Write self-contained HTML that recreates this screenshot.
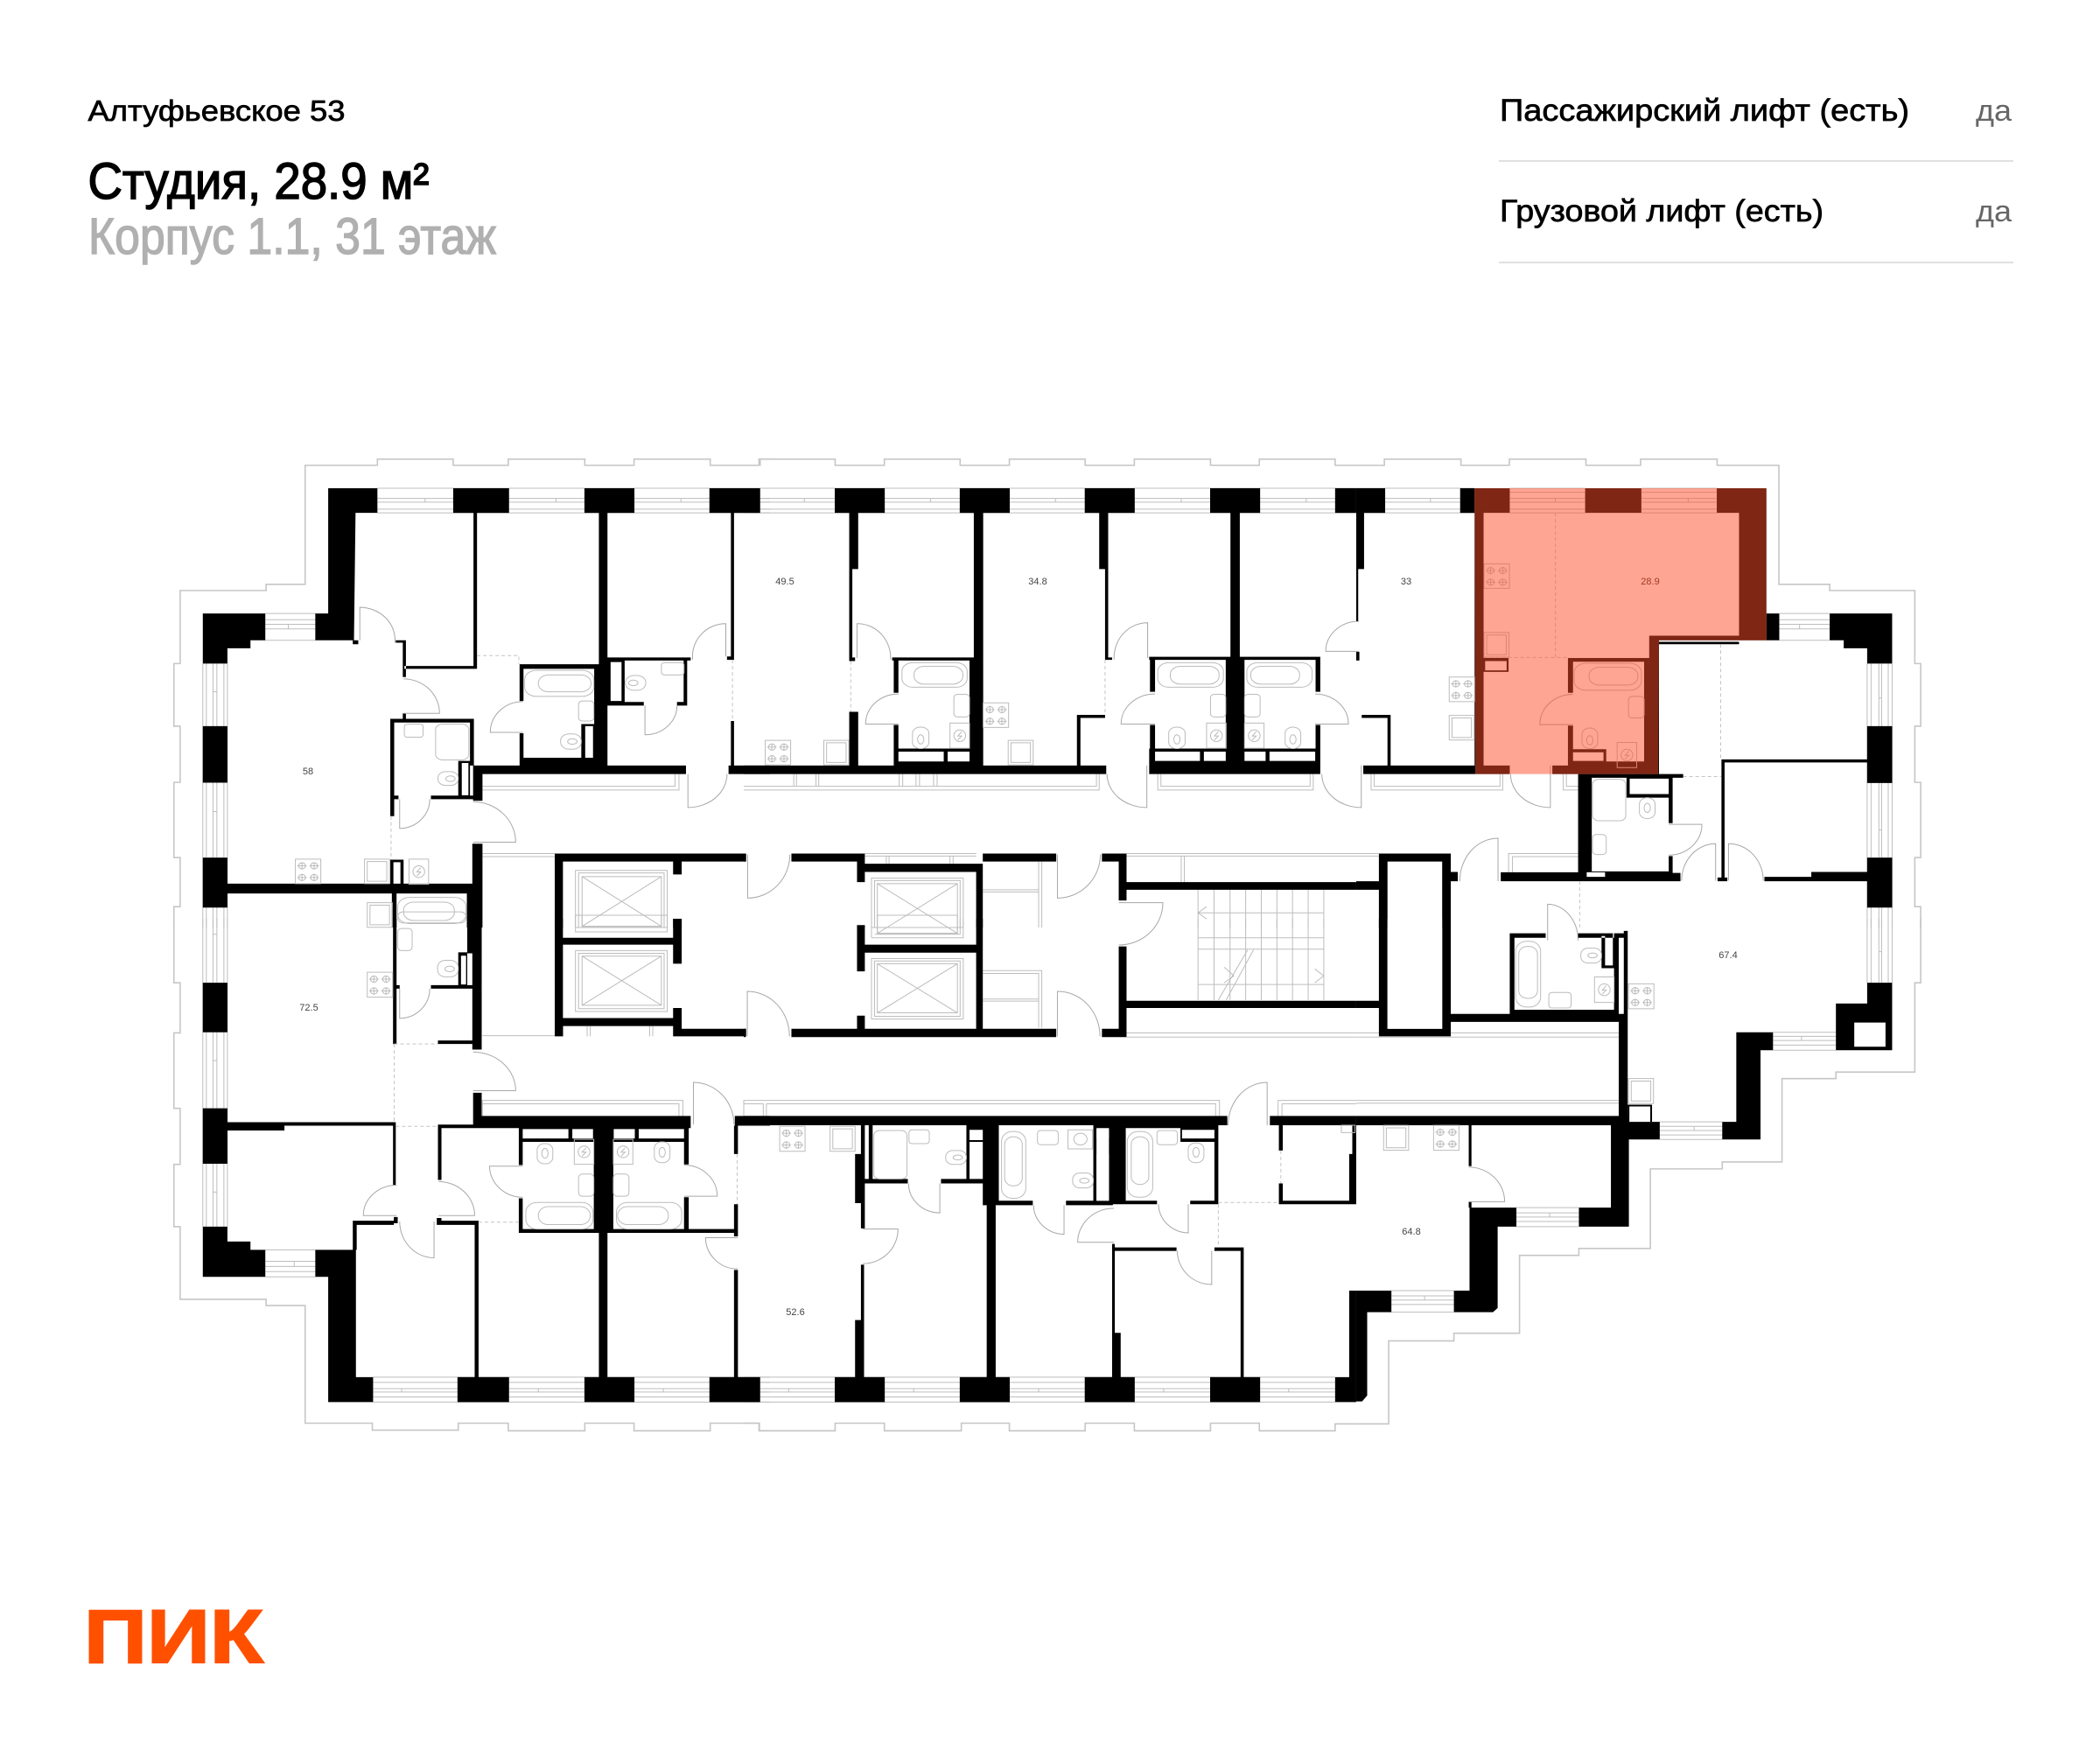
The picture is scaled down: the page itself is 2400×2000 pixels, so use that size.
<!DOCTYPE html>
<html lang="ru"><head><meta charset="utf-8"><title>Студия, 28.9 м²</title>
<style>
html,body{margin:0;padding:0;background:#fff}
svg{display:block}
text{font-family:"Liberation Sans","Noto Sans CJK SC",sans-serif}
.o,.l,.d,.f,.f *{fill:none;vector-effect:non-scaling-stroke}
.o{stroke:#c6c6c6;stroke-width:1.6}
.l{stroke:#bdbdbd;stroke-width:1}
.d{stroke:#a8a8a8;stroke-width:1}
.q{fill:none;stroke:#c4c4c4;stroke-width:1;stroke-dasharray:4 3;vector-effect:non-scaling-stroke}
.f{stroke:#bcbcbc;stroke-width:1}
.m{font-size:11px;fill:#444;text-anchor:middle}
</style></head><body>
<svg width="2400" height="2000" viewBox="0 0 2400 2000" xmlns="http://www.w3.org/2000/svg">
<rect width="2400" height="2000" fill="#fff"/>
<defs>
<g id="st" class="f"><rect width="65" height="80" vector-effect="non-scaling-stroke"/><ellipse cx="17" cy="22" rx="9" ry="10" vector-effect="non-scaling-stroke"/><ellipse cx="48" cy="22" rx="9" ry="10" vector-effect="non-scaling-stroke"/><ellipse cx="17" cy="60" rx="9" ry="10" vector-effect="non-scaling-stroke"/><ellipse cx="48" cy="60" rx="9" ry="10" vector-effect="non-scaling-stroke"/><path d="M5,22H29M36,22H60M5,60H29M36,60H60M17,10V34M48,10V34M17,48V72M48,48V72" vector-effect="non-scaling-stroke"/></g>
<g id="ks" class="f"><rect width="64" height="80" vector-effect="non-scaling-stroke"/><rect x="7" y="8" width="50" height="64" vector-effect="non-scaling-stroke"/></g>
<g id="ws" class="f"><rect width="50" height="82" vector-effect="non-scaling-stroke"/><ellipse cx="25" cy="41" rx="15" ry="19" vector-effect="non-scaling-stroke"/><path d="M30,28L20,42H30L20,55" vector-effect="non-scaling-stroke"/></g>
</defs>

<!-- Header -->
<text x="100.5" y="138" font-size="33" fill="#000" textLength="294" lengthAdjust="spacingAndGlyphs" stroke="#000" stroke-width=".7">Алтуфьевское 53</text>
<text x="100.5" y="227" font-size="58" fill="#000" textLength="390" lengthAdjust="spacingAndGlyphs" stroke="#000" stroke-width="1.5">Студия, 28.9 м²</text>
<text x="101" y="290" font-size="58" fill="#b0b0b0" textLength="466" lengthAdjust="spacingAndGlyphs" stroke="#b0b0b0" stroke-width="1.4">Корпус 1.1, 31 этаж</text>
<text x="1714" y="138" font-size="35" fill="#000" textLength="468" lengthAdjust="spacingAndGlyphs" stroke="#000" stroke-width=".7">Пассажирский лифт (есть)</text>
<text x="2258" y="138" font-size="34" fill="#666" textLength="41" lengthAdjust="spacingAndGlyphs">да</text>
<rect x="1713" y="183" width="588" height="2" fill="#e0e0e0"/>
<text x="1714" y="253" font-size="35" fill="#000" textLength="370" lengthAdjust="spacingAndGlyphs" stroke="#000" stroke-width=".7">Грузовой лифт (есть)</text>
<text x="2258" y="253" font-size="34" fill="#666" textLength="41" lengthAdjust="spacingAndGlyphs">да</text>
<rect x="1713" y="299" width="588" height="2" fill="#e0e0e0"/>

<!-- Group A : top left -->
<g transform="matrix(.4464 0 0 .3508 180 510)">
<path class="o" d="M42,1568V1500H58V1340H42V1095H58V912H42V708H58V470H278V450H378V62H563V42H757V62H898V42H1094V62H1220V42H1415V62H1540V42H1568"/>
<path class="l" d="M563,137H1568M563,170H1568M563,182H1568M563,205H1568M563,217H1568M685,170v12M1020,170v12M1340,170v12M276,545H405M276,565H405M276,580H405M276,595H405M276,632H405M335,580v15M116,708V1568M125,708V1568M142,708V1568M152,708V1568M170,708V1568M179,708V1568M142,800h10M142,1190h10"/>
<path class="l" d="M832,1120H1335V1068M832,1108H1325V1068M832,1327H1017M832,1337H1017"/>
<path fill="#000" d="M437,137H563V217H507L503,632H404V545H437ZM116,545H276V632H238V658H179V708H116ZM757,137H900V217H757ZM1093,137H1221V217H1093ZM1413,137H1541V217H1413ZM116,912H179V1096H116ZM116,1340H179V1503H116Z
M809,217H818V725H632V716H809ZM628,632V752H636V640H636V632H610V640H628ZM628,870H636V888H628ZM500,632H514V645H500Z
M1130,217H1152V1040H1130ZM927,710H1130V725H937V830H927ZM927,935H937V1015H1118V710H1130V1040H927ZM808,1040H1353V1068H832V1155H808ZM1085,905H1118V1015H1085Z
M1152,688H1365V698H1356V845H1330V833H1347V698H1196V833H1245V845H1152Z
M1468,217H1476V696H1458V685H1468ZM1468,895H1476V1040H1568V1068H1462V1040H1468Z
M596,888H810V1040H800V900H606V1138H617V1150H606V1205H596ZM700,1138H808V1150H700ZM770,1025H800V1140H770Z
M806,1295H832V1568H792V1457H612V1568H600V1457H179V1425H806Z
M596,1347H630V1425H596Z
M1017,1327H1507V1353H1342V1395H1320V1353H1038V1568H1017ZM1320,1540H1342V1568H1320Z"/>
<path fill="#fff" d="M1160,703H1188V830H1160ZM1095,912H1115V1015H1095ZM779,1032H796V1137H779ZM604,1355H622V1425H604Z"/>
<g class="d"><path class="d" d="M518,632V525A90,107 0 0 1 608,640"/><path class="d" d="M630,870H722A92,112 0 0 0 630,758"/><path class="d" d="M935,932H852A83,100 0 0 1 935,832"/><path class="d" d="M1248,845V940A82,95 0 0 0 1330,845"/><path class="d" d="M1455,685V578A85,107 0 0 0 1370,695"/><path class="d" d="M620,1150V1245A78,95 0 0 0 697,1150"/><path class="d" d="M808,1290H917A110,132 0 0 0 808,1158"/><path class="d" d="M1358,1068V1177A100,109 0 0 0 1458,1068"/></g>
<path class="q" d="M818,682H925V710M1472,696V895M598,1205V1347"/>
<g class="f"><rect class="f" x="940" y="730" width="177" height="85" rx="30"/><rect class="f" x="975" y="745" width="135" height="55" rx="26"/><rect class="f" x="1078" y="830" width="39" height="65" rx="10"/><rect class="f" x="1032" y="937" width="53" height="50" rx="22"/><ellipse class="f" cx="1062" cy="962" rx="12" ry="9"/><rect class="f" x="1290" y="705" width="58" height="40" rx="8"/><rect class="f" x="1198" y="747" width="52" height="48" rx="22"/><ellipse class="f" cx="1218" cy="771" rx="12" ry="9"/><rect class="f" x="632" y="905" width="48" height="43" rx="8"/><rect class="f" x="712" y="905" width="85" height="117" rx="18"/><rect class="f" x="718" y="1060" width="52" height="45" rx="20"/><ellipse class="f" cx="750" cy="1083" rx="12" ry="9"/><rect class="f" x="615" y="1470" width="175" height="85" rx="30"/><rect class="f" x="630" y="1485" width="130" height="60" rx="26"/></g>
<use href="#st" x="353" y="1345"/><use href="#ks" x="530" y="1345"/><use href="#ws" x="644" y="1345"/><use href="#ks" x="537" y="1487"/>
<g class="f"><rect class="f" x="1070" y="1382" width="235" height="186"/><rect class="f" x="1078" y="1390" width="219" height="178"/><rect class="f" x="1087" y="1402" width="203" height="162"/><path class="f" d="M1087,1402L1290,1564M1290,1402L1087,1564"/></g>
</g>

<!-- Group B : top middle -->
<g transform="matrix(.4464 0 0 .3508 850 510)">
<path class="o" d="M0,62H42V42H234V62H360V42H554V62H680V42H874V62H1000V42H1195V62H1320V42H1514V62H1568"/>
<path class="l" d="M0,137H1568M0,170H1568M0,182H1568M0,205H1568M0,217H1568M155,170v12M478,170v12M798,170v12M1120,170v12M1440,170v12"/>
<path class="l" d="M0,1120H910V1068M0,1108H903V1068M128,1068V1108M135,1068V1108M185,1068V1108M192,1068V1108M398,1068V1108M407,1068V1108M441,1068V1108M450,1068V1108M486,1068V1108M495,1068V1108M1060,1068V1120H1458V1068M1068,1068V1108H1450V1068
M310,1327H595M310,1335H595M365,1335V1360M372,1335V1360M528,1335V1360M536,1335V1360M612,1445H755M612,1452H755M755,1353V1568M763,1353V1568M980,1327H1568M980,1335H1568M1120,1335V1420M1128,1335V1420"/>
<path class="l" d="M1163,1445V1568M1204,1445V1568M1245,1445V1568M1285,1445V1568M1325,1445V1568M1365,1445V1568M1405,1445V1568M1445,1445V1568M1485,1445V1568M1163,1520H1485M1185,1500L1163,1520L1185,1540"/>
<path fill="#000" d="M0,137H42V217H0ZM233,137H361V217H233ZM553,137H681V217H553ZM873,137H1001V217H873ZM1194,137H1322V217H1194ZM1514,137H1568V217H1514Z
M270,217H293V400H278V688H285V700H270ZM270,865H293V1040H270ZM589,217H613V1040H589ZM910,217H933V688H943V696H925V400H910ZM1246,217H1270V690H1246Z
M380,688H578V698H396V803H384V698H380ZM578,688H613V1040H578ZM384,908H396V985H384ZM384,985H613V1040H384Z
M0,1040H928V1068H0ZM853,875H925V885H862V1040H853Z
M1038,686H1476V696H1476V800H1464V696H1053V800H1040V696H1038ZM1234,686H1282V1040H1234ZM1040,908H1053V985H1040ZM1464,908H1476V985H1464ZM1038,985H1476V1068H1038Z
M0,1327H5V1353H0ZM122,1327H310V1360H612V1327H800V1353H612V1568H595V1387H310V1420H290V1353H122ZM917,1327H980V1420H1568V1445H980V1480H960V1353H917Z
M290,1560H310V1568H290Z"/>
<path fill="#fff" d="M396,995H512V1027H396ZM522,995H578V1027H522ZM1053,995H1168V1025H1053ZM1178,995H1234V1025H1178ZM1282,995H1336V1025H1282ZM1346,995H1463V1025H1346Z"/>
<g class="d"><path class="d" d="M290,690V578A85,112 0 0 1 376,695"/><path class="d" d="M396,905H312A84,98 0 0 1 396,807"/><path class="d" d="M1034,690V575A85,115 0 0 0 948,695"/><path class="d" d="M1053,905H966A87,98 0 0 1 1053,807"/><path class="d" d="M1463,905H1548A85,98 0 0 0 1463,807"/><path class="d" d="M1575,668H1490A85,98 0 0 1 1575,570"/><path class="d" d="M1032,1040V1177A102,109 0 0 1 930,1068"/><path class="d" d="M1581,1040V1177A101,109 0 0 1 1480,1068"/><path class="d" d="M10,1330V1472A108,142 0 0 0 118,1330"/><path class="d" d="M803,1330V1472A110,142 0 0 0 913,1330"/><path class="d" d="M960,1487H1073A113,138 0 0 1 960,1625"/></g>
<path class="q" d="M274,700V865M925,696V875"/>
<g class="f"><rect class="f" x="405" y="705" width="167" height="80" rx="28"/><rect class="f" x="436" y="717" width="125" height="58" rx="26"/><rect class="f" x="538" y="808" width="40" height="74" rx="10"/><rect class="f" x="432" y="915" width="42" height="70" rx="20"/><ellipse class="f" cx="453" cy="955" rx="8" ry="15"/><rect class="f" x="1060" y="705" width="168" height="80" rx="28"/><rect class="f" x="1092" y="717" width="125" height="58" rx="26"/><rect class="f" x="1195" y="808" width="39" height="74" rx="10"/><rect class="f" x="1088" y="915" width="42" height="70" rx="20"/><ellipse class="f" cx="1109" cy="955" rx="8" ry="15"/><rect class="f" x="1288" y="705" width="167" height="80" rx="28"/><rect class="f" x="1298" y="717" width="125" height="58" rx="26"/><rect class="f" x="1282" y="808" width="40" height="74" rx="10"/><rect class="f" x="1386" y="915" width="40" height="70" rx="20"/><ellipse class="f" cx="1406" cy="955" rx="8" ry="15"/></g>
<use href="#ws" x="528" y="902"/><use href="#ws" x="1185" y="902"/><use href="#ws" x="1282" y="902"/><use href="#st" x="55" y="958"/><use href="#ks" x="205" y="958"/><use href="#st" x="613" y="836"/><use href="#ks" x="677" y="958"/>
<g class="f"><rect class="f" x="327" y="1407" width="235" height="161"/><rect class="f" x="335" y="1415" width="219" height="153"/><rect class="f" x="342" y="1425" width="205" height="162"/><path class="f" d="M342,1425L547,1587M547,1425L342,1587"/></g>
</g>

<!-- Group C : top right -->
<g transform="matrix(.4464 0 0 .3508 1550 510)">
<path class="o" d="M0,62H72V42H268V62H392V42H588V62H728V42H924V62H1082V450H1212V470H1430V708H1445V912H1430V1095H1445V1340H1430V1500H1445V1568"/>
<path class="l" d="M0,137H303M0,170H303M0,182H303M0,205H303M0,217H303M190,170v12M1083,545H1212M1083,565H1212M1083,580H1212M1083,595H1212M1083,632H1212M1135,580v15M1308,708V1568M1318,708V1568M1338,708V1568M1345,708V1568M1362,708V1568M1372,708V1568M1338,820h7M1338,1250h7"/>
<path class="l" d="M38,1068V1120H375V1068M46,1068V1108H368V1068M530,1068V1120H568M538,1068V1108H568M0,1327H58M0,1335H58M390,1388V1327H568M400,1388V1337H568"/>
<path fill="#000" d="M0,137H74V217H20V400H5V570H0ZM266,137H303V217H266ZM0,670H8V698H0ZM14,875H88V1040H305V1068H18V1040H80V885H14ZM1050,545H1083V632H1050ZM1212,545H1372V708H1308V658H1248V632H1212ZM775,637H980V645H775ZM1308,912H1372V1097H1308ZM1308,1340H1372V1503H1308Z
M568,1068H837V1080H810V1228H800V1145H692V1080H603V1385H800V1335H810V1390H830V1417H370V1388H568ZM1045,1403H1165V1387H1308V1417H1045ZM935,1020H1310V1030H943V1405H950V1417H925V1405H935Z
M58,1327H242V1387H260V1417H242V1568H220V1353H80V1568H58ZM0,1417H58V1445H0Z"/>
<path fill="#fff" d="M700,1083H800V1133H700ZM590,1388H637V1403H590Z"/>
<!-- apartment walls -->
<path fill="#000" d="M303,137H393V217H326V1040H393V1068H305V1040H303ZM586,137H730V217H586ZM923,137H1050V632H775V1068H502V1040H737V702H555V803H542V690H750V617H980V217H923ZM326,690H390V735H326ZM542,910H555V987H640V1027H737V1040H542Z"/>
<path d="M330,700H385V730H330ZM555,997H633V1025H555Z" fill="#fff"/>
<path class="l" d="M393,137H586M393,150H586M393,170H586M393,182H586M393,205H586M393,217H586M730,137H923M730,150H923M730,170H923M730,182H923M730,205H923M730,217H923M510,170v12M850,170v12"/>
<path class="q" d="M510,217V690M326,688H542M933,645V1020M837,1076H935M572,1417V1568"/>
<g class="d"><path class="d" d="M555,907H470A85,98 0 0 1 555,808"/><path class="d" d="M497,1040V1177A102,109 0 0 1 395,1068"/><path class="d" d="M800,1232H885A85,100 0 0 1 800,1332"/><path class="d" d="M920,1415V1295A87,120 0 0 0 833,1415"/><path class="d" d="M953,1415V1295A88,120 0 0 1 1042,1415"/><path class="d" d="M363,1417V1277A98,140 0 0 0 265,1417"/><path class="d" d="M490,1610V1492A78,118 0 0 1 568,1610"/></g>
<g class="f"><rect class="f" x="558" y="707" width="172" height="88" rx="30"/><rect class="f" x="596" y="720" width="125" height="58" rx="26"/><rect class="f" x="697" y="815" width="40" height="70" rx="10"/><rect class="f" x="578" y="918" width="40" height="67" rx="20"/><ellipse class="f" cx="598" cy="958" rx="8" ry="15"/><rect class="f" x="605" y="1085" width="85" height="135" rx="16"/><rect class="f" x="725" y="1145" width="40" height="68" rx="20"/><ellipse class="f" cx="745" cy="1178" rx="8" ry="15"/><rect class="f" x="605" y="1265" width="35" height="65" rx="10"/></g>
<use href="#st" x="327" y="383"/><use href="#ks" x="327" y="607"/><use href="#st" x="238" y="752"/><use href="#ks" x="238" y="877"/><use href="#ws" x="668" y="965"/>
<!-- orange overlay -->
<path fill="rgb(255,75,40)" fill-opacity=".5" d="M303,137H1050V632H775L773,1068H305Z"/>
</g>

<!-- Group D : bottom left -->
<g transform="matrix(.4464 0 0 .3954 180 1050)">
<path class="o" d="M42,0V185H58V330H42V548H58V710H42V890H58V1100H278V1118H378V1458H550V1478H770V1458H898V1480H1094V1458H1220V1480H1415V1458H1540V1480H1568"/>
<path class="l" d="M116,0V890M125,0V890M142,0V890M152,0V890M170,0V890M179,0V890M142,45h10M142,410h10M142,790h10M276,957H404M276,990H404M276,1005H404M276,1020H404M276,1035H404M350,990v15M552,1325H1568M552,1340H1568M552,1358H1568M552,1368H1568M552,1382H1568M552,1397H1568M625,1358v10M975,1358v10M1295,1358v10"/>
<path class="l" d="M832,338H1017M1038,310V340M1100,310V340M1108,310V340M1260,310V340M1268,310V340M832,570V525H1345V570M832,570V535H1335V570"/>
<path fill="#000" d="M793,0H830V378H806V100H793ZM770,97H793V202H806V192H700V202H806V192H793V192H770ZM718,352H806V362H718ZM603,0H612V192H620V202H612V362H603Z
M1017,0H1038V55H1320V0H1342V130H1320V75H1038V287H1320V258H1342V318H1507V340H1320V310H1038V340H1017Z
M116,185H179V328H116ZM116,548H179V588H610V770H603V598H325V612H179V708H116ZM116,890H179V933H238V957H276V1035H116ZM404,957H500V873H605V862H615V880H605V885H510V957H508V1325H552V1397H437V1035H404Z
M715,865H727V873H822V1325H900V1397H768V1325H812V885H715ZM1093,1325H1221V1397H1093ZM1130,908H1152V1325H1130ZM1413,1325H1541V1397H1413ZM1476,1015H1486V1325H1476ZM1476,825H1486V918H1476ZM1476,598H1486V680H1476Z
M718,595H808V503H830V570H1365V605H1360V710H1348V645H1167V908H1117V645H935V712H925V605H727V755H718ZM925,808H935V897H1117V908H925ZM1348,805H1360V897H1478V908H1167V897H1348ZM1478,570H1568V598H1478Z"/>
<path fill="#fff" d="M777,107H790V190H777ZM935,608H1052V635H935ZM1062,608H1115V635H1062ZM1168,608H1222V635H1168ZM1232,608H1348V635H1232Z"/>
<g class="d"><path class="d" d="M620,202V288A78,86 0 0 0 697,202"/><path class="d" d="M808,497H917A110,112 0 0 0 808,385"/><path class="d" d="M1372,595V473A104,122 0 0 1 1476,595"/><path class="d" d="M612,858H527A85,88 0 0 1 612,770"/><path class="d" d="M720,858H812A92,98 0 0 0 720,760"/><path class="d" d="M620,875A88,105 0 0 0 708,980V875"/><path class="d" d="M935,805A85,92 0 0 1 850,715H935"/><path class="d" d="M1348,802H1433A85,90 0 0 0 1348,712"/><path class="d" d="M1486,1012A82,92 0 0 1 1403,922H1486"/><path class="d" d="M1510,340V210A108,130 0 0 1 1618,340"/></g>
<path class="q" d="M606,362H718M606,362V590M610,600H718M822,877H925M1484,680V825"/>
<g class="f"><rect class="f" x="943" y="820" width="172" height="77" rx="28"/><rect class="f" x="975" y="832" width="133" height="52" rx="25"/><rect class="f" x="1078" y="738" width="39" height="64" rx="10"/><rect class="f" x="972" y="650" width="40" height="58" rx="18"/><ellipse class="f" cx="992" cy="678" rx="8" ry="14"/><rect class="f" x="1175" y="820" width="167" height="77" rx="28"/><rect class="f" x="1178" y="832" width="130" height="52" rx="25"/><rect class="f" x="1167" y="738" width="40" height="64" rx="10"/><rect class="f" x="1272" y="645" width="40" height="60" rx="18"/><ellipse class="f" cx="1292" cy="675" rx="8" ry="14"/><rect class="f" x="615" y="28" width="37" height="64" rx="10"/><rect class="f" x="717" y="120" width="53" height="48" rx="20"/><ellipse class="f" cx="748" cy="145" rx="12" ry="8"/><rect class="f" x="615" y="-20" width="175" height="32" rx="14"/></g>
<use href="#ws" x="1067" y="645" transform="translate(0,70) scale(1,.88)"/><use href="#ws" x="1167" y="645" transform="translate(0,70) scale(1,.88)"/><use href="#st" x="537" y="153" transform="translate(0,17) scale(1,.9)"/>
<g class="f"><rect class="f" x="1070" y="-10" width="235" height="48"/><rect class="f" x="1087" y="-10" width="203" height="32"/><rect class="f" x="1070" y="92" width="235" height="176"/><rect class="f" x="1078" y="100" width="219" height="160"/><rect class="f" x="1087" y="108" width="203" height="142"/><path class="f" d="M1087,108L1290,250M1290,108L1087,250"/></g>
</g>

<!-- Group E : bottom middle -->
<g transform="matrix(.4464 0 0 .3954 850 1050)">
<path class="o" d="M0,1458H40V1480H234V1458H360V1480H557V1458H680V1480H874V1458H1000V1480H1195V1458H1320V1480H1514V1460H1568"/>
<path class="l" d="M0,1325H1514M0,1340H1514M0,1358H1514M0,1368H1514M0,1382H1514M0,1397H1514M115,1358v10M435,1358v10M755,1358v10M1075,1358v10M1395,1358v10"/>
<path class="l" d="M327,55V0M327,55H562V0M335,45H554V0M612,150H763V315M612,158H755V315M612,232H755M612,238H755M980,330H1568M980,342H1568M0,570V525H1218V570M58,570V535H1208V570M0,535H50V570M1368,570V525H1568M1378,570V535H1568"/>
<path class="l" d="M1163,0V235M1204,0V235M1245,0V235M1285,0V235M1325,0V235M1365,0V235M1405,0V235M1445,0V235M1485,0V235M1163,55H1485M1163,88H1485M1163,190H1485M1290,90L1215,235M1305,90L1235,235M1462,145L1485,165L1462,185M1230,140L1255,165L1230,185"/>
<path fill="#000" d="M290,20H310V75H595V0H612V318H800V342H122V318H290V280H310V318H595V98H310V152H290ZM0,318H5V342H0ZM917,318H960V80H980V237H1568V258H980V342H917Z
M0,570H1238V597H1215V825H1143V815H1205V645H1118V605H978V815H1058V825H935V605H903V815H895V597H653V815H740V828H645V1325H681V1397H553V1325H622V828H612V765H505V752H570V597H330V752H420V765H310V895H300V822H285V680H300V597H0ZM300,1000H308V1160H308V1325H361V1397H233V1325H285V1160H300Z
M0,1325H42V1397H0ZM873,1325H943V940H950V950H1108V960H950V1197H965V1325H1001V1397H873ZM825,815H945V828H825ZM1205,950H1280V1325H1322V1397H1194V1325H1272V960H1205ZM1514,1325H1568V1397H1514ZM1550,1075H1568V1325H1550Z
M1347,570H1568V597H1380V670H1370V597H1347ZM1370,765H1380V815H1550V680H1558V597H1568V825H1370Z"/>
<path fill="#fff" d="M310,597H320V752H310ZM578,610H612V640H578ZM578,645H612V752H578ZM903,610H935V635H903ZM903,680H935V815H903ZM1122,610H1205V635H1122Z"/>
<g class="d"><path class="d" d="M422,765A80,85 0 0 0 502,850V765"/><path class="d" d="M742,828A80,85 0 0 0 820,912V828"/><path class="d" d="M1062,825A78,84 0 0 0 1138,908V825"/><path class="d" d="M948,837A92,98 0 0 0 855,935H948"/><path class="d" d="M1110,960A88,97 0 0 0 1198,1057V960"/><path class="d" d="M305,897H395A90,100 0 0 1 305,997"/><path class="d" d="M803,340V210A108,130 0 0 1 912,340"/><path class="d" d="M1340,597V473A100,124 0 0 0 1240,597"/></g>
<path class="q" d="M1215,820H1370M1215,825V950M1375,670V765"/>
<g class="f"><rect class="f" x="333" y="612" width="85" height="140" rx="14"/><rect class="f" x="423" y="610" width="52" height="40" rx="8"/><rect class="f" x="517" y="670" width="53" height="40" rx="18"/><ellipse class="f" cx="548" cy="690" rx="12" ry="7"/><rect class="f" x="660" y="615" width="62" height="193" rx="28"/><rect class="f" x="668" y="630" width="45" height="142" rx="22"/><rect class="f" x="752" y="612" width="53" height="41" rx="8"/><rect class="f" x="842" y="735" width="53" height="43" rx="18"/><ellipse class="f" cx="872" cy="757" rx="12" ry="7"/><rect class="f" x="982" y="615" width="65" height="190" rx="28"/><rect class="f" x="992" y="630" width="45" height="138" rx="22"/><rect class="f" x="1058" y="612" width="52" height="41" rx="8"/><rect class="f" x="1138" y="648" width="40" height="57" rx="18"/><ellipse class="f" cx="1158" cy="675" rx="8" ry="14"/><rect class="f" x="1530" y="597" width="35" height="21"/><rect class="f" x="327" y="115" width="235" height="175"/><rect class="f" x="335" y="122" width="219" height="160"/><rect class="f" x="342" y="130" width="205" height="142"/><path class="f" d="M342,130L547,272M547,130L342,272"/><rect class="f" x="342" y="-10" width="205" height="52"/><rect class="f" x="830" y="610" width="63" height="55"/><ellipse class="f" cx="862" cy="637" rx="17" ry="17"/></g>
<use href="#st" x="92" y="600" transform="translate(0,60) scale(1,.9)"/><use href="#ks" x="221" y="600" transform="translate(0,60) scale(1,.9)"/>
</g>

<!-- Group F : bottom right -->
<g transform="matrix(.4464 0 0 .3954 1550 1050)">
<path class="o" d="M1445,0V185H1430V443H1228V462H1090V703H937V723H753V953H570V973H418V1198H250V1220H83V1460H0"/>
<path class="l" d="M1308,0V185M1318,0V185M1338,0V185M1345,0V185M1362,0V185M1372,0V185M1338,95h7M777,587H937M777,600H937M777,612H937M777,625H937M777,638H937M865,600v12M410,835H570M410,850H570M410,862H570M410,875H570M410,890H570M495,850v12M90,1075H250M90,1090H250M90,1102H250M90,1115H250M90,1137H250M175,1090v12M1067,328H1228M1067,340H1228M1067,352H1228M1067,365H1228M1067,380H1228M1140,340v12"/>
<path class="l" d="M0,330H672M0,342H672M0,525H672M0,533H672"/>
<path fill="#000" d="M58,0H80V318H220V0H242V275H393V42H485V55H405V263H660V143H628V50H637V135H657V42H568V55H660V42H685V35H695V570H672V298H242V340H58ZM0,237H58V258H0Z
M0,570H672V597H288H295V715H288V597H0ZM288,818H295V835H288Z
M652,597H672V570H698V587H777V638H698V890H570V835H652ZM290,835H410V890H362V1125L350,1137H250V1075H290ZM0,1075H90V1137H28V1378L15,1395H0ZM973,328H1067V380H1035V638H937V587H973ZM1228,245H1308V185H1372V380H1228Z"/>
<path fill="#fff" d="M672,55H685V275H672ZM1275,300H1355V370H1275ZM80,0H220V318H80Z"/>
<path fill="none" stroke="#000" stroke-width="2" vector-effect="non-scaling-stroke" d="M697,587V540H755V587"/>
<g class="d"><path class="d" d="M288,818H380A92,100 0 0 0 288,718"/></g>
<g class="f"><rect class="f" x="408" y="65" width="64" height="190" rx="28"/><rect class="f" x="416" y="80" width="48" height="150" rx="22"/><rect class="f" x="493" y="213" width="57" height="45" rx="8"/><rect class="f" x="575" y="85" width="53" height="43" rx="18"/><ellipse class="f" cx="605" cy="106" rx="12" ry="7"/></g>
<use href="#ws" x="610" y="168" transform="translate(0,17) scale(1,.9)"/><use href="#st" x="697" y="188" transform="translate(0,19) scale(1,.9)"/><use href="#ks" x="697" y="462" transform="translate(0,46) scale(1,.9)"/><use href="#st" x="198" y="597" transform="translate(0,60) scale(1,.9)"/><use href="#ks" x="70" y="597" transform="translate(0,60) scale(1,.9)"/>
</g>

<!-- Area labels -->
<text class="m" x="352" y="885">58</text>
<text class="m" x="897" y="668">49.5</text>
<text class="m" x="1186" y="668">34.8</text>
<text class="m" x="1607" y="668">33</text>
<text class="m" x="1886" y="668" style="fill:#a33a26">28.9</text>
<text class="m" x="1975" y="1095">67.4</text>
<text class="m" x="353" y="1155">72.5</text>
<text class="m" x="909" y="1503">52.6</text>
<text class="m" x="1613" y="1411">64.8</text>

<!-- Logo -->
<text x="96" y="1900" font-size="86" font-weight="700" fill="#ff5000" stroke="#ff5000" stroke-width="2" textLength="205" lengthAdjust="spacingAndGlyphs">ПИК</text>
</svg>
</body></html>
